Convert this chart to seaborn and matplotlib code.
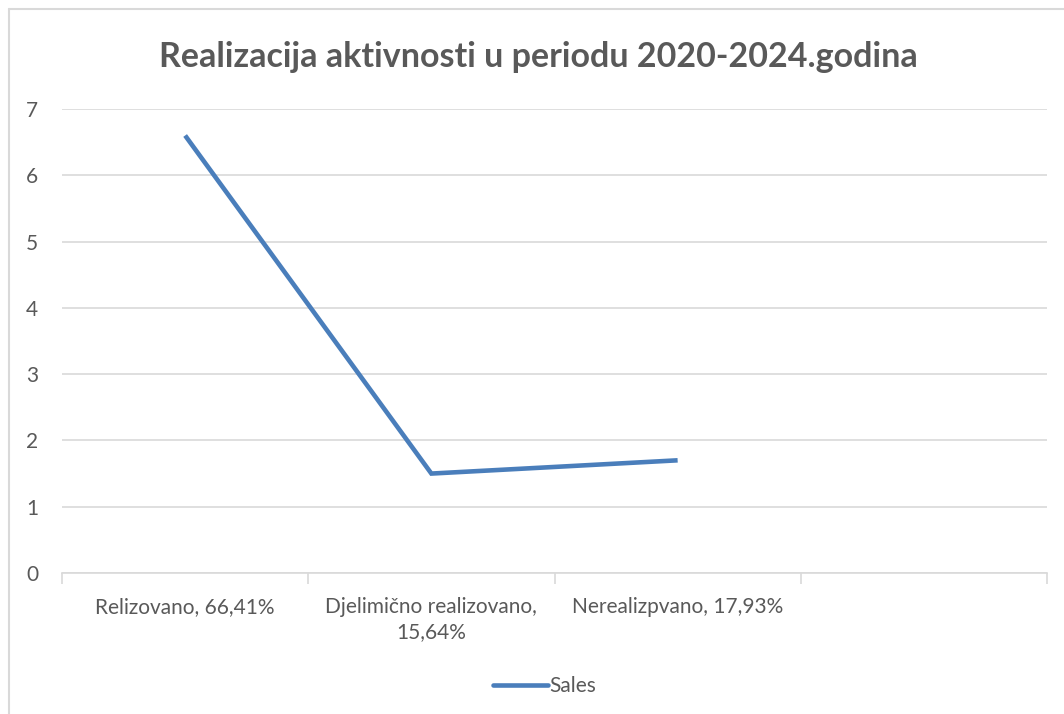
import matplotlib
matplotlib.use("Agg")
import matplotlib.pyplot as plt
from matplotlib.lines import Line2D
import seaborn as sns
import pandas as pd
import numpy as np

categories = ["Relizovano, 66,41%", "Djelimično realizovano,\n15,64%", "Nerealizpvano, 17,93%", ""]
sales = [6.6, 1.5, 1.7, np.nan]
series_name = "Sales"
title = "Realizacija aktivnosti u periodu 2020-2024.godina"

sns.set_theme(style="white")
plt.rcParams['font.family'] = ['Lato', 'DejaVu Sans']

W, H = 1064, 714
fig = plt.figure(figsize=(W / 100, H / 100), dpi=100)
fig.patch.set_facecolor("white")

ax = fig.add_axes([62 / W, 1 - 573 / H, (1047 - 62) / W, (573 - 109) / H])

df = pd.DataFrame({"pos": np.arange(len(categories)), "value": sales})
line_color = "#4A7EBB"
sns.lineplot(data=df, x="pos", y="value", ax=ax, color=line_color, linewidth=3.3,
             solid_capstyle="butt", solid_joinstyle="miter", legend=False)

ax.set_xlim(-0.5, len(categories) - 0.5)
ax.set_ylim(0, 7)
ax.set_yticks(range(0, 8))
ax.set_xticks(np.arange(len(categories)))
ax.set_xticklabels(categories)
ax.set_xticks(np.arange(-0.5, len(categories), 1.0), minor=True)
ax.set_xlabel("")
ax.set_ylabel("")

grid_c = "#D9D9D9"
ax.yaxis.grid(True, color=grid_c, linewidth=1.2)
ax.xaxis.grid(False)
ax.set_axisbelow(True)
for s in ["top", "right", "left"]:
    ax.spines[s].set_visible(False)
ax.spines["bottom"].set_color(grid_c)
ax.spines["bottom"].set_linewidth(1.2)

txt_c = "#595959"
ax.tick_params(axis="x", which="major", length=0, pad=17, labelsize=15, labelcolor=txt_c)
ax.tick_params(axis="x", which="minor", length=8, width=1.2, color=grid_c, bottom=True)
ax.tick_params(axis="y", which="major", length=0, pad=17, labelsize=15, labelcolor=txt_c)
for lab in ax.get_xticklabels():
    lab.set_linespacing(1.35)
    lab.set_verticalalignment("top")

fig.text(538 / W, 1 - 57 / H, title, ha="center", va="center", fontsize=24.5,
         fontweight="bold", color=txt_c)

handle = Line2D([], [], color=line_color, linewidth=3.3)
fig.legend([handle], [series_name], loc="center", bbox_to_anchor=(545 / W, 1 - 686 / H),
           frameon=False, fontsize=15, labelcolor=txt_c, handlelength=2.6, handletextpad=0.1)

# chart area border (top and left visible)
fig.add_artist(Line2D([8.5 / W, 1.0], [1 - 8.5 / H, 1 - 8.5 / H], transform=fig.transFigure,
                      color=grid_c, linewidth=1.5))
fig.add_artist(Line2D([8.5 / W, 8.5 / W], [0, 1 - 8.5 / H], transform=fig.transFigure,
                      color=grid_c, linewidth=1.5))

fig.savefig("out.png", dpi=100, facecolor="white")
